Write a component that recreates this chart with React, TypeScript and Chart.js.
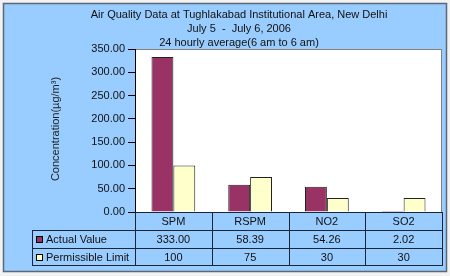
import React, { useEffect, useRef } from "react";
import { Chart, registerables } from "chart.js";

Chart.register(...registerables);

const titleLines = [
  "Air Quality Data at Tughlakabad Institutional Area, New Delhi",
  "July 5  -  July 6, 2006",
  "24 hourly average(6 am to 6 am)",
];
const categories = ["SPM", "RSPM", "NO2", "SO2"];
const seriesNames = ["Actual Value", "Permissible Limit"];
const actualValues = [333.0, 58.39, 54.26, 2.02];
const permissibleLimits = [100, 75, 30, 30];
const actualLabels = ["333.00", "58.39", "54.26", "2.02"];
const permissibleLabels = ["100", "75", "30", "30"];
const yTitle = "Concentration(\u00b5g/m\u00b3)";
const yMin = 0;
const yMax = 350;
const yStep = 50;

const FONT = '"Liberation Sans", Arial, sans-serif';
const BG = "#99CCFF";
const C_ACTUAL = "#993366";
const C_LIMIT = "#FFFFCC";
const LINE = "#1c2438";

const decorPlugin = {
  id: "decor",
  beforeDraw(chart: any) {
    const ctx = chart.ctx;
    const { width, height } = chart;
    const a = chart.chartArea;
    ctx.save();
    ctx.fillStyle = "#f2f2f2";
    ctx.fillRect(0, 0, width, height);
    ctx.fillStyle = BG;
    ctx.fillRect(3, 3, 444, 269);
    ctx.strokeStyle = "#5a6878";
    ctx.lineWidth = 1.5;
    ctx.strokeRect(3.5, 3.5, 443, 268);
    // plot area
    ctx.fillStyle = "#ffffff";
    ctx.fillRect(a.left, a.top, a.right - a.left, a.bottom - a.top);
    ctx.strokeStyle = "#808080";
    ctx.lineWidth = 1;
    ctx.strokeRect(a.left + 0.5, a.top + 0.5, a.right - a.left - 1, a.bottom - a.top);
    // titles
    ctx.fillStyle = "#111";
    ctx.font = `11px ${FONT}`;
    ctx.textAlign = "center";
    ctx.textBaseline = "middle";
    const ty = [15, 29, 43];
    titleLines.forEach((t, i) => ctx.fillText(t, 239, ty[i]));
    // y axis title
    ctx.save();
    ctx.fillStyle = "#222";
    ctx.translate(56, 129);
    ctx.rotate(-Math.PI / 2);
    ctx.fillText(yTitle, 0, 0);
    ctx.restore();
    ctx.restore();
  },
  afterDraw(chart: any) {
    const ctx = chart.ctx;
    const a = chart.chartArea;
    const xs = chart.scales.x;
    const n = categories.length;
    const colW = (a.right - a.left) / n;
    const bounds = Array.from({ length: n + 1 }, (_, i) => a.left + i * colW);
    const y0 = a.bottom;
    const y1 = y0 + 18;
    const y2 = y1 + 18;
    const y3 = y2 + 17;
    const legLeft = 32;
    ctx.save();
    ctx.strokeStyle = LINE;
    ctx.lineWidth = 1;
    const h = (x1: number, x2: number, y: number) => {
      ctx.beginPath();
      ctx.moveTo(x1, Math.round(y) + 0.5);
      ctx.lineTo(x2, Math.round(y) + 0.5);
      ctx.stroke();
    };
    const v = (x: number, ya: number, yb: number) => {
      ctx.beginPath();
      ctx.moveTo(Math.round(x) + 0.5, ya);
      ctx.lineTo(Math.round(x) + 0.5, yb);
      ctx.stroke();
    };
    h(a.left, a.right, y0);
    h(legLeft, a.right, y1);
    h(legLeft, a.right, y2);
    h(legLeft, a.right, y3);
    v(legLeft, y1, y3 + 1);
    bounds.forEach((b) => v(b, y0, y3 + 1));

    ctx.fillStyle = "#111";
    ctx.font = `11px ${FONT}`;
    ctx.textAlign = "center";
    ctx.textBaseline = "middle";
    categories.forEach((c, i) => {
      const cx = xs.getPixelForValue(i);
      ctx.fillText(c, cx, (y0 + y1) / 2 + 1);
      ctx.fillText(actualLabels[i], cx, (y1 + y2) / 2 + 1);
      ctx.fillText(permissibleLabels[i], cx, (y2 + y3) / 2 + 1);
    });
    // legend keys
    const rows = [
      { y: (y1 + y2) / 2, color: C_ACTUAL, name: seriesNames[0] },
      { y: (y2 + y3) / 2, color: C_LIMIT, name: seriesNames[1] },
    ];
    rows.forEach((r) => {
      ctx.fillStyle = r.color;
      ctx.fillRect(36, Math.round(r.y) - 3, 7, 7);
      ctx.strokeStyle = "#000";
      ctx.strokeRect(36.5, Math.round(r.y) - 2.5, 6, 6);
      ctx.fillStyle = "#111";
      ctx.textAlign = "left";
      ctx.fillText(r.name, 46, r.y + 1);
    });
    ctx.restore();
  },
};

export default function App() {
  const ref = useRef<HTMLCanvasElement | null>(null);
  useEffect(() => {
    if (!ref.current) return;
    const chart = new Chart(ref.current, {
      type: "bar",
      data: {
        labels: categories,
        datasets: [
          {
            label: seriesNames[0],
            data: actualValues,
            backgroundColor: C_ACTUAL,
            borderColor: "#222",
            borderWidth: 1,
          },
          {
            label: seriesNames[1],
            data: permissibleLimits,
            backgroundColor: C_LIMIT,
            borderColor: "#222",
            borderWidth: 1,
          },
        ],
      },
      options: {
        responsive: false,
        animation: false,
        layout: { padding: { top: 49, right: 8, bottom: 64, left: 0 } },
        plugins: {
          legend: { display: false },
          title: { display: false },
          tooltip: { enabled: false },
        },
        datasets: {
          bar: { categoryPercentage: 0.57, barPercentage: 1 },
        },
        scales: {
          x: { display: false },
          y: {
            min: yMin,
            max: yMax,
            afterFit: (s: any) => {
              s.width = 135;
            },
            ticks: {
              stepSize: yStep,
              padding: 3,
              color: "#111",
              font: { family: FONT, size: 11 },
              callback: (val: any) => Number(val).toFixed(2),
            },
            grid: {
              drawOnChartArea: false,
              drawTicks: true,
              tickLength: 7,
              color: "#000",
            },
            border: { display: true, color: "#000" },
          },
        },
      },
      plugins: [decorPlugin],
    });
    return () => chart.destroy();
  }, []);
  return (
    <div style={{ position: "absolute", left: 0, top: 0, width: 450, height: 276 }}>
      <canvas ref={ref} width={450} height={276} />
    </div>
  );
}
